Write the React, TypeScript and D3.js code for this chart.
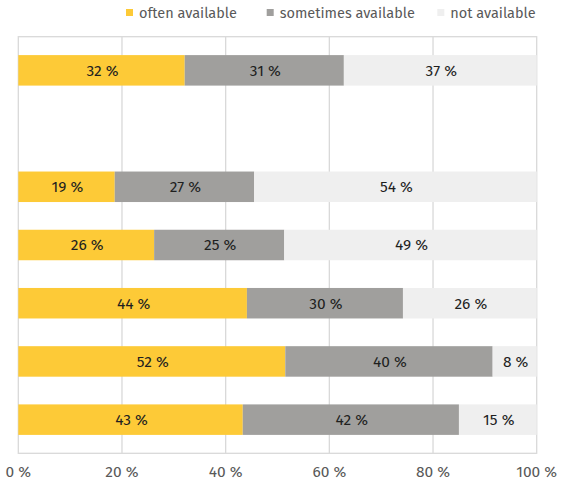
import React from "react";
import * as d3 from "d3";

const rows = ["r1", "gap", "r2", "r3", "r4", "r5", "r6"];
const seriesNames = ["often available", "sometimes available", "not available"];
const seriesColors = ["#FDCA37", "#A09F9D", "#EFEFEF"];
const often = [32.1, null, 18.6, 26.2, 44.1, 51.5, 43.3];
const sometimes = [30.7, null, 26.9, 25.1, 30.1, 40.0, 41.7];
const notAvail = [37.2, null, 54.5, 48.7, 25.8, 8.5, 15.0];
const oftenLabels = [32, null, 19, 26, 44, 52, 43];
const sometimesLabels = [31, null, 27, 25, 30, 40, 42];
const notLabels = [37, null, 54, 49, 26, 8, 15];
const xTicks = [0, 20, 40, 60, 80, 100];

const W = 561;
const H = 483;
const FONT = "'Fira Sans', 'Noto Sans', sans-serif";

export default function App() {
  const left = 18.3, right = 536.7, top = 36.7, bottom = 453.3;
  const x = d3.scaleLinear().domain([0, 100]).range([left, right]);
  const y = d3.scaleBand<string>().domain(rows).range([top, bottom]).paddingInner(0.476).paddingOuter(0.316);
  const vals = [often, sometimes, notAvail];
  const labs = [oftenLabels, sometimesLabels, notLabels];
  const stackRows = rows.map((r, i) => {
    if (often[i] == null) return null;
    let acc = 0;
    return vals.map((v, s) => {
      const x0 = acc;
      acc += v[i] as number;
      return { s, x0, x1: acc, label: labs[s][i] };
    });
  });
  const legendX = [126, 266.7, 437.3];
  return (
    <svg width={W} height={H} style={{ position: "absolute", left: 0, top: 0, fontFamily: FONT }}>
      <rect x={0} y={0} width={W} height={H} fill="#fff" />
      {xTicks.slice(1, -1).map((t) => (
        <line key={t} x1={x(t)} x2={x(t)} y1={top} y2={bottom} stroke="#D9D9D9" strokeWidth={1.3} />
      ))}
      <rect x={left} y={top} width={right - left} height={bottom - top} fill="none" stroke="#D9D9D9" strokeWidth={1.3} />
      {stackRows.map((segs, i) =>
        segs
          ? segs.map((d) => (
              <g key={rows[i] + d.s}>
                <rect x={x(d.x0)} y={y(rows[i])} width={x(d.x1) - x(d.x0)} height={y.bandwidth()} fill={seriesColors[d.s]} />
                <text
                  x={(x(d.x0) + x(d.x1)) / 2 + 1}
                  y={(y(rows[i]) as number) + y.bandwidth() / 2}
                  dy="0.35em"
                  textAnchor="middle"
                  fontSize={15.5}
                  fill="#1F1F1F"
                >
                  {d.label} %
                </text>
              </g>
            ))
          : null
      )}
      {xTicks.map((t) => (
        <text key={t} x={x(t)} y={472} dy="0.35em" textAnchor="middle" fontSize={15.5} fill="#595959">
          {t} %
        </text>
      ))}
      {seriesNames.map((n, i) => (
        <g key={n}>
          <rect x={legendX[i]} y={9} width={7} height={7} fill={seriesColors[i]} />
          <text x={legendX[i] + 13} y={12.5} dy="0.35em" fontSize={14.5} fill="#595959">
            {n}
          </text>
        </g>
      ))}
    </svg>
  );
}
